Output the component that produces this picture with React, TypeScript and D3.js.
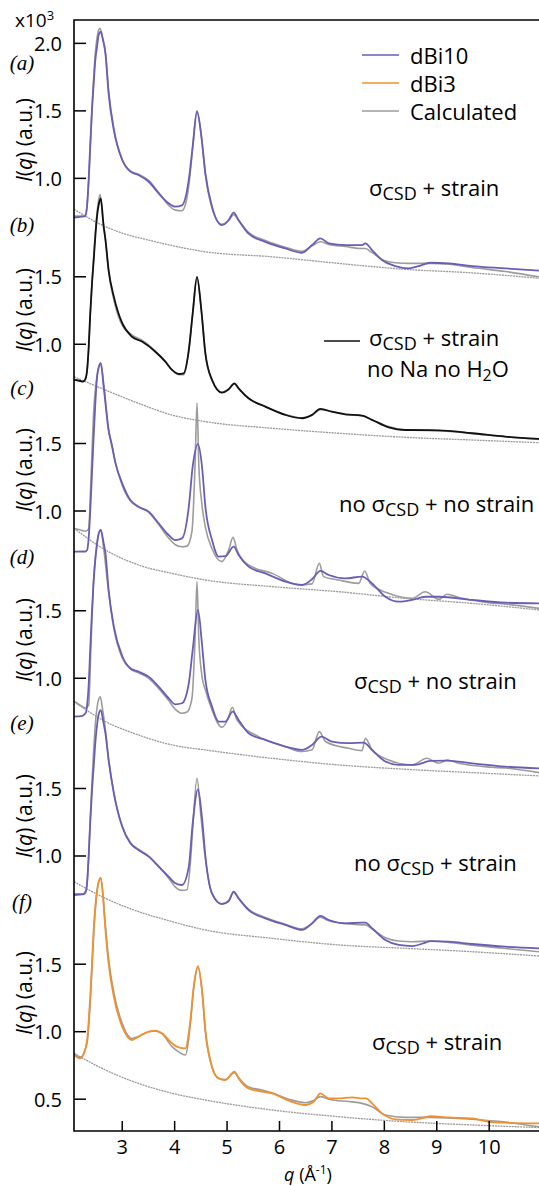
import React from 'react';
import * as d3 from 'd3';

type Pt = [number, number];

const qDomain: [number, number] = [2.08, 10.95];
const qTicks = [3, 4, 5, 6, 7, 8, 9, 10];

// (a) sigma_CSD + strain, dBi10
const aMeas: Pt[] = [[2.08,0.71],[2.23,0.716],[2.296,0.72],[2.33,0.80],[2.36,0.99],[2.39,1.25],[2.423,1.506],[2.455,1.70],[2.487,1.877],[2.52,1.975],[2.55,2.062],[2.59,2.086],[2.63,2.03],[2.68,1.926],[2.74,1.63],[2.84,1.358],[3.0,1.136],[3.155,1.05],[3.31,1.025],[3.505,0.975],[3.695,0.889],[3.886,0.815],[4.013,0.79],[4.14,0.80],[4.27,0.99],[4.344,1.235],[4.426,1.494],[4.51,1.31],[4.586,1.037],[4.713,0.79],[4.90,0.654],[5.03,0.69],[5.126,0.746],[5.22,0.69],[5.41,0.59],[5.73,0.53],[6.11,0.481],[6.43,0.449],[6.62,0.506],[6.78,0.556],[6.94,0.519],[7.256,0.506],[7.574,0.506],[7.638,0.519],[7.765,0.469],[7.955,0.395],[8.21,0.35],[8.465,0.333],[8.655,0.35],[8.878,0.375],[9.23,0.37],[9.673,0.35],[10.31,0.333],[10.95,0.316]];
const aCalc: Pt[] = [[2.08,0.72],[2.23,0.72],[2.296,0.73],[2.33,0.80],[2.36,0.98],[2.39,1.22],[2.423,1.52],[2.455,1.74],[2.487,1.93],[2.52,2.04],[2.55,2.10],[2.58,2.11],[2.62,2.05],[2.68,1.93],[2.74,1.65],[2.84,1.37],[3.0,1.14],[3.155,1.055],[3.31,1.03],[3.505,0.985],[3.695,0.895],[3.886,0.80],[4.013,0.765],[4.14,0.76],[4.236,0.86],[4.30,1.05],[4.344,1.23],[4.426,1.50],[4.51,1.31],[4.586,1.03],[4.713,0.78],[4.90,0.66],[5.03,0.69],[5.126,0.73],[5.22,0.69],[5.41,0.60],[5.73,0.54],[6.11,0.49],[6.43,0.46],[6.62,0.50],[6.78,0.53],[6.94,0.51],[7.256,0.495],[7.574,0.48],[7.638,0.48],[7.765,0.45],[7.955,0.40],[8.21,0.375],[8.465,0.37],[8.655,0.37],[8.878,0.37],[9.23,0.365],[9.673,0.34],[10.31,0.31],[10.95,0.27]];
const aBg: Pt[] = [[2.08,0.772],[2.5,0.676],[3.0,0.594],[3.5,0.543],[4.0,0.498],[4.586,0.456],[5.86,0.419],[7.13,0.37],[8.40,0.326],[9.67,0.30],[10.95,0.26]];

// (b) sigma_CSD + strain, no Na no H2O
const bMeas: Pt[] = [[2.08,0.736],[2.20,0.728],[2.25,0.723],[2.296,0.74],[2.33,0.81],[2.36,0.98],[2.39,1.23],[2.423,1.45],[2.455,1.62],[2.487,1.80],[2.52,1.95],[2.55,2.03],[2.59,2.08],[2.646,1.87],[2.68,1.773],[2.74,1.55],[2.84,1.353],[3.0,1.156],[3.186,1.056],[3.377,1.02],[3.632,0.945],[3.822,0.871],[3.95,0.81],[4.077,0.78],[4.172,0.785],[4.27,0.958],[4.344,1.23],[4.426,1.50],[4.509,1.254],[4.586,0.933],[4.713,0.736],[4.90,0.642],[5.03,0.667],[5.139,0.711],[5.22,0.674],[5.41,0.60],[5.73,0.538],[6.11,0.477],[6.43,0.452],[6.62,0.477],[6.78,0.521],[7.0,0.501],[7.256,0.481],[7.574,0.472],[7.765,0.44],[8.083,0.385],[8.40,0.365],[9.04,0.363],[9.673,0.341],[10.31,0.316],[10.95,0.299]];
const bCalc: Pt[] = [[2.08,0.74],[2.25,0.725],[2.296,0.745],[2.33,0.80],[2.36,0.96],[2.39,1.21],[2.423,1.45],[2.455,1.64],[2.487,1.83],[2.52,1.98],[2.55,2.07],[2.58,2.11],[2.63,1.93],[2.68,1.78],[2.74,1.54],[2.84,1.33],[3.0,1.14],[3.186,1.07],[3.377,1.03],[3.632,0.95],[3.822,0.875],[3.95,0.81],[4.077,0.775],[4.172,0.775],[4.27,0.95],[4.344,1.22],[4.426,1.49],[4.509,1.25],[4.586,0.93],[4.713,0.735],[4.90,0.645],[5.03,0.667],[5.139,0.705],[5.22,0.672],[5.41,0.60],[5.73,0.54],[6.11,0.48],[6.43,0.455],[6.62,0.475],[6.78,0.515],[7.0,0.50],[7.256,0.48],[7.574,0.47],[7.765,0.44],[8.083,0.39],[8.40,0.365],[9.04,0.36],[9.673,0.34],[10.31,0.315],[10.95,0.295]];
const bBg: Pt[] = [[2.08,0.76],[2.68,0.661],[3.31,0.563],[3.95,0.476],[4.586,0.427],[5.86,0.378],[7.13,0.341],[8.40,0.311],[9.67,0.291],[10.95,0.271]];

// (c) no sigma_CSD + no strain
const cMeas: Pt[] = [[2.08,0.699],[2.30,0.70],[2.33,0.71],[2.36,0.80],[2.39,1.0],[2.423,1.28],[2.455,1.55],[2.487,1.80],[2.52,1.995],[2.55,2.06],[2.59,2.094],[2.646,1.92],[2.74,1.6],[2.805,1.48],[2.868,1.36],[3.0,1.205],[3.155,1.081],[3.31,1.032],[3.505,0.995],[3.695,0.909],[3.886,0.822],[4.013,0.785],[4.14,0.797],[4.27,1.032],[4.344,1.328],[4.445,1.495],[4.522,1.328],[4.586,1.032],[4.713,0.785],[4.84,0.662],[4.967,0.665],[5.126,0.736],[5.22,0.674],[5.41,0.588],[5.73,0.538],[6.11,0.477],[6.43,0.452],[6.62,0.494],[6.78,0.556],[6.94,0.526],[7.256,0.501],[7.574,0.514],[7.765,0.464],[8.02,0.365],[8.274,0.328],[8.528,0.341],[8.782,0.365],[9.037,0.365],[9.673,0.341],[10.31,0.321],[10.95,0.316]];
const cCalc: Pt[] = [[2.08,0.87],[2.20,0.86],[2.30,0.85],[2.36,0.87],[2.40,1.2],[2.45,1.7],[2.52,2.0],[2.59,2.10],[2.65,1.93],[2.74,1.6],[2.805,1.49],[2.868,1.36],[3.0,1.19],[3.155,1.075],[3.31,1.03],[3.505,0.99],[3.695,0.90],[3.886,0.80],[4.013,0.75],[4.14,0.735],[4.236,0.74],[4.33,0.85],[4.39,1.35],[4.426,1.80],[4.46,1.35],[4.52,1.05],[4.586,0.88],[4.713,0.72],[4.90,0.625],[5.03,0.711],[5.113,0.805],[5.19,0.711],[5.41,0.60],[5.86,0.538],[6.37,0.452],[6.62,0.46],[6.76,0.612],[6.84,0.514],[7.13,0.489],[7.51,0.464],[7.625,0.556],[7.73,0.464],[8.08,0.39],[8.528,0.353],[8.782,0.402],[9.04,0.346],[9.196,0.383],[9.42,0.36],[9.99,0.321],[10.31,0.31],[10.95,0.279]];
const cBg: Pt[] = [[2.08,0.872],[2.68,0.711],[3.31,0.60],[3.95,0.538],[4.586,0.489],[5.86,0.44],[7.13,0.402],[8.40,0.353],[9.67,0.316],[10.95,0.267]];

// (d) sigma_CSD + no strain
const dMeas: Pt[] = [[2.08,0.716],[2.23,0.72],[2.30,0.74],[2.33,0.80],[2.36,0.95],[2.39,1.22],[2.423,1.50],[2.455,1.72],[2.487,1.88],[2.52,2.0],[2.55,2.07],[2.59,2.099],[2.646,2.0],[2.68,1.926],[2.74,1.654],[2.84,1.383],[3.0,1.165],[3.155,1.074],[3.31,1.049],[3.505,1.012],[3.695,0.938],[3.886,0.852],[4.013,0.807],[4.14,0.815],[4.27,0.963],[4.344,1.21],[4.445,1.506],[4.522,1.25],[4.586,0.988],[4.713,0.79],[4.84,0.679],[4.967,0.679],[5.107,0.753],[5.22,0.691],[5.41,0.593],[5.73,0.543],[6.11,0.494],[6.43,0.469],[6.62,0.506],[6.80,0.568],[7.0,0.531],[7.32,0.519],[7.606,0.523],[7.765,0.469],[8.02,0.383],[8.274,0.358],[8.59,0.358],[8.878,0.388],[9.196,0.39],[9.673,0.37],[10.31,0.346],[10.95,0.333]];
const dCalc: Pt[] = [[2.08,0.83],[2.20,0.80],[2.30,0.78],[2.36,0.80],[2.40,1.2],[2.45,1.7],[2.52,2.0],[2.59,2.10],[2.65,1.95],[2.74,1.64],[2.84,1.37],[3.0,1.15],[3.155,1.07],[3.31,1.04],[3.505,1.0],[3.695,0.925],[3.886,0.835],[4.013,0.77],[4.14,0.741],[4.236,0.75],[4.33,0.85],[4.39,1.3],[4.426,1.716],[4.46,1.3],[4.52,1.02],[4.586,0.914],[4.713,0.765],[4.90,0.637],[5.02,0.70],[5.10,0.785],[5.19,0.69],[5.60,0.568],[6.11,0.494],[6.43,0.457],[6.62,0.47],[6.76,0.605],[6.88,0.53],[7.32,0.481],[7.574,0.464],[7.638,0.556],[7.765,0.47],[8.08,0.395],[8.528,0.358],[8.814,0.407],[9.04,0.37],[9.196,0.395],[9.42,0.37],[10.05,0.341],[10.31,0.335],[10.95,0.301]];
const dBg: Pt[] = [[2.08,0.827],[2.68,0.679],[3.31,0.58],[3.95,0.506],[4.586,0.469],[5.86,0.407],[7.13,0.358],[8.40,0.326],[9.67,0.301],[10.95,0.277]];

// (e) no sigma_CSD + strain
const eMeas: Pt[] = [[2.08,0.711],[2.25,0.715],[2.30,0.73],[2.33,0.80],[2.36,1.0],[2.39,1.25],[2.423,1.48],[2.455,1.66],[2.487,1.84],[2.52,1.97],[2.55,2.05],[2.59,2.081],[2.646,1.98],[2.68,1.909],[2.74,1.711],[2.84,1.464],[3.0,1.217],[3.155,1.094],[3.31,1.044],[3.505,0.995],[3.695,0.921],[3.886,0.847],[4.013,0.798],[4.14,0.785],[4.27,0.921],[4.344,1.242],[4.445,1.494],[4.522,1.28],[4.586,1.0],[4.713,0.723],[4.90,0.644],[5.03,0.665],[5.126,0.736],[5.22,0.686],[5.41,0.60],[5.73,0.538],[6.11,0.489],[6.43,0.452],[6.62,0.501],[6.78,0.556],[6.94,0.526],[7.256,0.501],[7.574,0.506],[7.638,0.506],[7.765,0.465],[8.02,0.378],[8.274,0.341],[8.528,0.333],[8.782,0.358],[8.878,0.37],[9.23,0.365],[9.673,0.348],[10.31,0.328],[10.95,0.316]];
const eCalc: Pt[] = [[2.08,0.72],[2.25,0.72],[2.30,0.74],[2.33,0.80],[2.36,1.0],[2.39,1.28],[2.423,1.55],[2.455,1.78],[2.487,1.98],[2.52,2.10],[2.55,2.16],[2.58,2.18],[2.62,2.10],[2.68,1.93],[2.74,1.72],[2.84,1.47],[3.0,1.22],[3.155,1.10],[3.31,1.05],[3.505,1.0],[3.695,0.925],[3.886,0.835],[4.013,0.77],[4.14,0.745],[4.236,0.75],[4.30,0.95],[4.344,1.2],[4.426,1.575],[4.50,1.3],[4.586,0.98],[4.713,0.72],[4.90,0.645],[5.03,0.67],[5.126,0.73],[5.22,0.685],[5.41,0.605],[5.73,0.545],[6.11,0.495],[6.43,0.46],[6.62,0.50],[6.78,0.546],[6.94,0.52],[7.256,0.50],[7.574,0.49],[7.638,0.49],[7.765,0.46],[8.02,0.395],[8.274,0.37],[8.528,0.365],[8.878,0.37],[9.23,0.36],[9.673,0.34],[10.31,0.315],[10.95,0.291]];
const eBg: Pt[] = [[2.08,0.81],[2.68,0.686],[3.31,0.588],[3.95,0.514],[4.586,0.452],[5.86,0.39],[7.13,0.341],[8.40,0.316],[9.67,0.291],[10.95,0.259]];

// (f) sigma_CSD + strain, dBi3
const fMeas: Pt[] = [[2.08,0.827],[2.20,0.802],[2.27,0.84],[2.33,0.938],[2.36,1.08],[2.39,1.259],[2.423,1.50],[2.455,1.753],[2.487,1.93],[2.52,2.049],[2.55,2.11],[2.59,2.14],[2.63,2.02],[2.68,1.753],[2.74,1.506],[2.84,1.259],[3.0,1.037],[3.186,0.938],[3.31,0.963],[3.505,1.0],[3.632,1.007],[3.759,0.988],[3.95,0.914],[4.077,0.884],[4.204,0.877],[4.30,1.086],[4.363,1.333],[4.445,1.486],[4.522,1.309],[4.586,1.012],[4.713,0.741],[4.84,0.654],[4.967,0.642],[5.139,0.704],[5.22,0.654],[5.41,0.58],[5.666,0.556],[5.858,0.543],[6.175,0.489],[6.493,0.457],[6.652,0.481],[6.78,0.543],[6.94,0.506],[7.13,0.506],[7.383,0.514],[7.574,0.506],[7.65,0.506],[7.765,0.469],[7.956,0.395],[8.21,0.351],[8.528,0.346],[8.782,0.365],[8.878,0.375],[9.23,0.365],[9.673,0.358],[9.99,0.333],[10.31,0.326],[10.95,0.321]];
const fCalc: Pt[] = [[2.08,0.84],[2.20,0.81],[2.33,0.92],[2.39,1.22],[2.455,1.72],[2.52,2.04],[2.59,2.14],[2.68,1.78],[2.74,1.54],[2.84,1.29],[3.0,1.06],[3.186,0.95],[3.31,0.965],[3.505,1.0],[3.632,1.005],[3.759,0.985],[3.95,0.889],[4.077,0.85],[4.204,0.827],[4.30,1.06],[4.363,1.32],[4.445,1.476],[4.522,1.30],[4.586,1.0],[4.713,0.735],[4.84,0.654],[4.967,0.645],[5.139,0.696],[5.22,0.66],[5.41,0.59],[5.666,0.568],[5.858,0.548],[6.175,0.50],[6.493,0.474],[6.652,0.49],[6.78,0.519],[6.94,0.50],[7.13,0.489],[7.383,0.48],[7.574,0.469],[7.765,0.444],[8.02,0.383],[8.40,0.365],[8.878,0.365],[9.673,0.351],[10.31,0.33],[10.95,0.296]];
const fBg: Pt[] = [[2.08,0.84],[2.68,0.716],[3.31,0.617],[3.95,0.544],[4.586,0.494],[5.86,0.42],[7.13,0.37],[8.40,0.333],[9.67,0.309],[10.95,0.29]];

const panelLetters = ['(a)', '(b)', '(c)', '(d)', '(e)', '(f)'];
const panelOffsets = [6.321, 5.092, 3.857, 2.618, 1.3015, 0];
const panelTicks = [[1.0, 1.5, 2.0], [1.0, 1.5], [1.0, 1.5], [1.0, 1.5], [1.0, 1.5], [0.5, 1.0, 1.5]];
const measSeries = [aMeas, bMeas, cMeas, dMeas, eMeas, fMeas];
const calcSeries = [aCalc, bCalc, cCalc, dCalc, eCalc, fCalc];
const bgSeries = [aBg, bBg, cBg, dBg, eBg, fBg];

const PURPLE = '#6a5db6';
const ORANGE = '#f0902e';
const GRAY = '#9c9c9c';
const BLACK = '#111111';
const measColors = [PURPLE, BLACK, PURPLE, PURPLE, PURPLE, ORANGE];

const legendNames = ['dBi10', 'dBi3', 'Calculated'];
const legendColors = [PURPLE, ORANGE, GRAY];

const SANS = "'Open Sans', sans-serif";

function Sigma({ pre, post }: { pre?: string; post: string }) {
  return (
    <>
      {pre}σ<tspan fontSize={18} dy={4}>CSD</tspan>
      <tspan dy={-4}>{post}</tspan>
    </>
  );
}

export default function App() {
  const W = 539, H = 1187;
  const left = 74, right = 539, top = 20, bottom = 1131;

  const x = d3.scaleLinear().domain(qDomain).range([left, right]);
  const y = d3.scaleLinear().domain([0.2644, 8.4941]).range([bottom, top]);
  const lineFor = (off: number) =>
    d3.line<Pt>().x(d => x(d[0])).y(d => y(d[1] + off)).curve(d3.curveMonotoneX);

  const letterY = [63, 225, 388, 557, 723, 902];
  const labelY = [140, 310, 470, 640, 816, 993];

  return (
    <svg width={W} height={H} style={{ position: 'absolute', left: 0, top: 0, background: '#fff' }}
      fontFamily={SANS}>
      <defs>
        <clipPath id="plot">
          <rect x={left} y={top} width={right - left} height={bottom - top} />
        </clipPath>
      </defs>

      <g clipPath="url(#plot)" fill="none">
        {panelOffsets.map((off, i) => (
          <g key={i}>
            <path d={lineFor(off)(bgSeries[i]) || ''} stroke="#9a9a9a" strokeWidth={1.3} strokeDasharray="2 0.8" />
            <path d={lineFor(off)(calcSeries[i]) || ''} stroke={GRAY} strokeWidth={1.6} />
            <path d={lineFor(off)(measSeries[i]) || ''} stroke={measColors[i]} strokeWidth={1.8} />
          </g>
        ))}
      </g>

      {/* frame */}
      <path d={`M${right},${top}H${left}V${bottom}H${right}`} fill="none" stroke="#000" strokeWidth={1.6} />

      {/* x ticks */}
      {qTicks.map(t => (
        <g key={t}>
          <line x1={x(t)} x2={x(t)} y1={bottom} y2={bottom - 10} stroke="#000" strokeWidth={1.5} />
          <text x={x(t)} y={1154} textAnchor="middle" fontSize={20}>{t}</text>
        </g>
      ))}
      <text x={308} y={1181} textAnchor="middle" fontSize={18}>
        <tspan fontStyle="italic">q</tspan> (Å<tspan fontSize={12} dy={-7}>-1</tspan><tspan dy={7}>)</tspan>
      </text>

      {/* y ticks per panel */}
      {panelOffsets.map((off, i) => (
        <g key={i}>
          {panelTicks[i].map(t => (
            <g key={t}>
              <line x1={left} x2={left + 12} y1={y(t + off)} y2={y(t + off)} stroke="#000" strokeWidth={1.5} />
              <text x={62} y={y(t + off)} textAnchor="end" dominantBaseline="central" fontSize={20}>
                {t.toFixed(1)}
              </text>
            </g>
          ))}
          <text transform={`translate(24,${labelY[i]}) rotate(-90)`} textAnchor="middle"
            dominantBaseline="central" fontSize={21}>
            <tspan fontStyle="italic">I</tspan>(<tspan fontStyle="italic">q</tspan>) (a.u.)
          </text>
          <text x={22} y={letterY[i]} textAnchor="middle" dominantBaseline="central"
            fontFamily="'Liberation Serif', 'DejaVu Serif', serif" fontStyle="italic" fontSize={21}>
            {panelLetters[i]}
          </text>
        </g>
      ))}

      {/* scale factor */}
      <text x={15} y={27} fontSize={19}>x10<tspan fontSize={13} dy={-7}>3</tspan></text>

      {/* legend */}
      {legendNames.map((n, i) => (
        <g key={n}>
          <line x1={362} x2={399} y1={55 + i * 28} y2={55 + i * 28} stroke={legendColors[i]} strokeWidth={1.6} />
          <text x={410} y={55 + i * 28} dominantBaseline="central" fontSize={22}>{n}</text>
        </g>
      ))}

      {/* annotations */}
      <text x={369} y={196} fontSize={22}><Sigma post=" + strain" /></text>
      <line x1={324} x2={360} y1={341} y2={341} stroke={BLACK} strokeWidth={1.6} />
      <text x={369} y={346} fontSize={22}><Sigma post=" + strain" /></text>
      <text x={367} y={377} fontSize={22}>
        no Na no H<tspan fontSize={16} dy={4}>2</tspan><tspan dy={-4}>O</tspan>
      </text>
      <text x={339} y={512} fontSize={22}><Sigma pre="no " post=" + no strain" /></text>
      <text x={354} y={689} fontSize={22}><Sigma post=" + no strain" /></text>
      <text x={354} y={871} fontSize={22}><Sigma pre="no " post=" + strain" /></text>
      <text x={372} y={1050} fontSize={22}><Sigma post=" + strain" /></text>
    </svg>
  );
}
